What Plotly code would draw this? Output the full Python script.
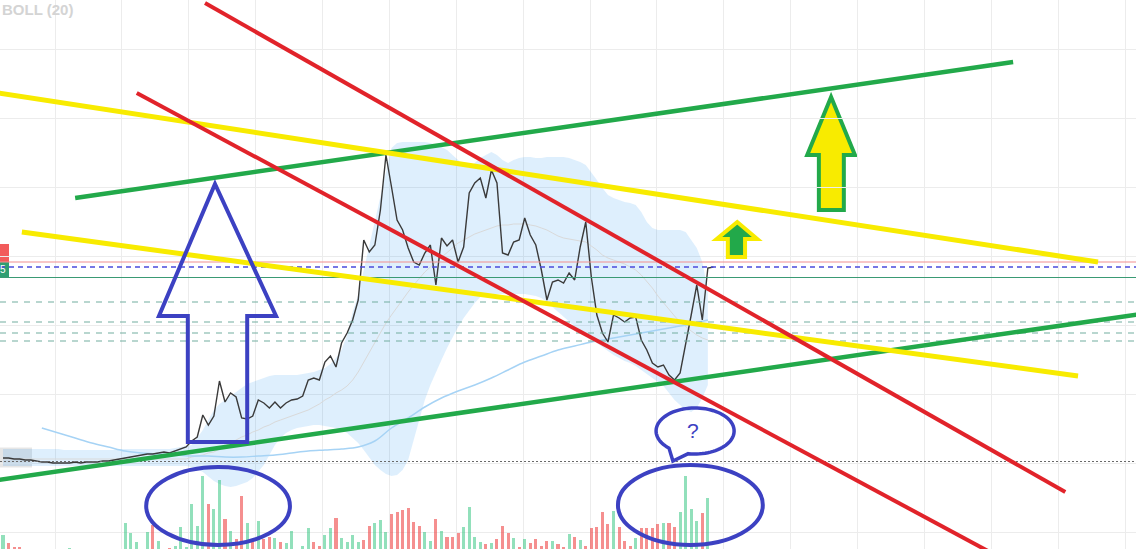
import numpy as np
import plotly.graph_objects as go

# ---------------- data (bar index, price units) ----------------
close = [91, 91, 90, 90, 89, 89, 88, 87, 87, 86, 86, 86, 86, 87, 86, 87, 87, 87, 88, 88,
         89, 90, 91, 92, 93, 94, 95, 95, 96, 97, 96, 98, 100, 102, 108, 112, 134, 124, 133, 168,
         147, 156, 152, 131, 130, 133, 149, 146, 141, 147, 141, 146, 149, 150, 153, 169, 171, 169, 187, 193,
         182, 206, 216, 229, 249, 309, 297, 304, 339, 394, 362, 329, 319, 301, 287, 284, 296, 304, 264, 311,
         303, 309, 287, 302, 356, 366, 371, 351, 379, 366, 296, 294, 307, 309, 331, 314, 304, 279, 249, 267,
         269, 266, 276, 269, 302, 327, 272, 234, 216, 207, 234, 231, 227, 231, 232, 209, 199, 186, 182, 184,
         174, 169, 176, 204, 234, 264, 229, 281, 282]

boll_upper = [100] * 11 + [99] * 10 + [100] * 10 + [
    101, 102, 103, 104, 111, 119, 129, 139, 145, 149, 153, 157, 161, 165, 167, 169, 171, 173, 174, 174,
    174, 174, 174, 175, 176, 177, 179, 181, 185, 191, 199, 214, 237, 254, 279, 304, 329, 352, 379, 401,
    406, 407, 407, 407, 407, 407, 406, 404, 402, 399, 394, 389, 384, 381, 386, 391, 394, 397, 394, 389,
    386, 389, 391, 392, 392, 391, 391, 392, 392, 392, 392, 391, 389, 387, 384, 377, 369, 361, 354, 351,
    349, 347, 346, 344, 337, 327, 321, 319, 319, 319, 319, 319, 317, 309, 301, 287, 259]

boll_lower = [83] * 34 + [
    82, 80, 77, 72, 68, 65, 63, 62, 63, 65, 67, 71, 77, 84, 94, 104, 111, 116, 119, 121,
    122, 123, 124, 124, 123, 122, 121, 119, 116, 111, 106, 99, 91, 84, 79, 75, 73, 74, 79, 89,
    109, 129, 149, 164, 177, 189, 201, 212, 222, 231, 239, 246, 252, 253, 254, 255, 255, 255, 255, 255,
    255, 254, 253, 251, 247, 242, 237, 232, 227, 222, 217, 213, 210, 206, 202, 198, 194, 191, 188, 186,
    183, 179, 175, 171, 167, 163, 156, 149, 144, 139, 137, 141, 151, 164]

boll_mid = [90] * 34 + [
    92, 93, 94, 96, 97, 100, 103, 106, 109, 112, 114, 117, 119, 122, 124, 127, 129, 131, 133, 135,
    137, 139, 142, 145, 149, 152, 156, 159, 163, 169, 177, 187, 197, 206, 216, 226, 234, 242, 249, 257,
    264, 271, 277, 282, 287, 292, 297, 302, 306, 309, 312, 315, 317, 319, 321, 323, 324, 324, 325, 325,
    325, 324, 323, 321, 319, 316, 313, 311, 310, 309, 308, 307, 303, 299, 294, 291, 289, 287, 285, 282,
    279, 274, 268, 261, 253, 246, 239, 233, 227, 222, 218, 214, 211, 209]

ma_idx = list(range(7, 128, 3))
ma_val = [121, 116, 111, 106, 102, 98, 96, 95, 94, 93, 93, 92, 92, 93, 94, 96, 98, 99, 100, 102,
          108, 121, 131, 142, 151, 158, 164, 171, 179, 187, 193, 199, 203, 207, 210, 213, 216, 219, 222, 225,
          229]

volume = [14, 6, 2, 2, 0, 0, 0, 0, 0, 0, 0, 0, 1, 0, 0, 0, 0, 0, 0, 0,
          0, 0, 26, 16, 7, 0, 17, 24, 8, 0, 1, 3, 22, 2, 45, 23, 73, 45, 40, 69,
          30, 18, 10, 53, 26, 7, 28, 10, 12, 11, 7, 6, 18, 0, 3, 21, 7, 3, 14, 21,
          31, 11, 7, 14, 7, 9, 23, 26, 29, 17, 35, 37, 39, 41, 27, 23, 17, 8, 30, 18,
          12, 12, 16, 22, 42, 12, 7, 5, 6, 10, 23, 16, 11, 2, 10, 6, 10, 3, 8, 8,
          5, 2, 15, 12, 9, 3, 21, 22, 37, 25, 38, 22, 8, 3, 11, 21, 21, 21, 25, 26,
          26, 22, 37, 73, 40, 28, 36, 51]
vol_dir = ("grrrgggggg" "gggggggggg" "gggggggrgg" "rggggggrgg" "rgrrgrgrrg"
           "rgggggrrgg" "rggggrrggg" "rrrrrrggrg" "rrrggggrgr" "rrgrgrrrrg"
           "rrgrgrrrrr" "grrrgrrrrg" "rrggggrg")

# horizontal levels (price units)
level_red = 287
level_blue = 282
level_green = 271.5
levels_teal = [247, 227, 216, 208]
level_gray = 87.5

# drawn trendlines: (x0, y0, x1, y1) in bar index / price units
red_lines = [(36.4, 546, 191.4, 57), (24.1, 456, 177.8, -3)]
yellow_lines = [(-1.0, 456.2, 197.3, 287), (3.4, 317, 193.7, 173)]
green_lines = [(13.0, 351, 182.0, 487), (-1.0, 68.9, 205.0, 235)]

blue_arrow = [(38.2, 365), (49.2, 233), (44.0, 233), (44.0, 107), (33.3, 107), (33.3, 233), (28.1, 233)]
big_arrow = [(149.2, 452), (144.9, 394), (147.0, 394), (147.0, 339), (151.5, 339), (151.5, 394), (153.5, 394)]
small_arrow = [(132.3, 327), (128.6, 310), (130.6, 310), (130.6, 292), (133.7, 292), (133.7, 310), (135.9, 310)]

ellipses = [(25.8, 4, 51.7, 82), (110.8, 4, 136.9, 84)]
bubble = dict(cx=124.7, cy=118, rx=7.03, ry=23, a0=260, a1=588, tip=(120.7, 88))

# ---------------- colours ----------------
BLUE = "#3c41c2"
RED = "#e1232a"
YEL = "#f8eb00"
GRN = "#22a94a"

idx = list(range(len(close)))
bidx = list(range(len(boll_upper)))

fig = go.Figure()
fig.add_trace(go.Scatter(x=bidx, y=boll_lower, mode="lines", line=dict(width=0, color="rgba(0,0,0,0)"),
                         hoverinfo="skip"))
fig.add_trace(go.Scatter(x=bidx, y=boll_upper, mode="lines", line=dict(width=0, color="rgba(0,0,0,0)"),
                         fill="tonexty", fillcolor="rgba(33,150,243,0.15)", hoverinfo="skip"))
fig.add_trace(go.Scatter(x=bidx, y=boll_mid, mode="lines", line=dict(width=1, color="#d9d9d9")))
fig.add_trace(go.Scatter(x=ma_idx, y=ma_val, mode="lines", line=dict(width=1.5, color="#a6d3f5", shape="spline")))
fig.add_trace(go.Scatter(x=idx, y=close, mode="lines", line=dict(width=1.4, color="#3a3a3a")))

vcols = ["rgba(38,194,120,0.5)" if c == "g" else "rgba(239,68,68,0.6)" for c in vol_dir]
vcols += ["rgba(38,194,120,0.5)"] * (len(volume) - len(vcols))
fig.add_trace(go.Bar(x=list(range(len(volume))), y=volume, marker=dict(color=vcols[:len(volume)], line=dict(width=0)),
                     width=0.55, yaxis="y2"))

shapes = []
# left price tags
shapes.append(dict(type="rect", xref="paper", yref="y", x0=0, x1=9 / 1136, y0=level_red, y1=level_red + 18,
                   fillcolor="#f25b5b", line=dict(width=0), layer="below"))
shapes.append(dict(type="rect", xref="paper", yref="y", x0=0, x1=9 / 1136, y0=level_green, y1=level_red,
                   fillcolor="#2f9e72", line=dict(width=0), layer="below"))
shapes.append(dict(type="rect", xref="paper", yref="y", x0=0, x1=32 / 1136, y0=level_gray - 6, y1=level_gray + 14,
                   fillcolor="#e6e6e6", line=dict(width=0), layer="below"))
# horizontal levels
shapes.append(dict(type="line", xref="paper", yref="y", x0=0, x1=1, y0=level_red, y1=level_red,
                   line=dict(color="#f29090", width=1.2)))
shapes.append(dict(type="line", xref="paper", yref="y", x0=0, x1=1, y0=level_blue, y1=level_blue,
                   line=dict(color="#4b4bdc", width=1.5, dash="5px,4px")))
shapes.append(dict(type="line", xref="paper", yref="y", x0=0, x1=1, y0=level_green, y1=level_green,
                   line=dict(color="#3a9a74", width=1.2)))
for lv in levels_teal:
    shapes.append(dict(type="line", xref="paper", yref="y", x0=0, x1=1, y0=lv, y1=lv,
                       line=dict(color="#72ae9f", width=1.2, dash="6px,6px")))
shapes.append(dict(type="line", xref="paper", yref="y", x0=0, x1=1, y0=level_gray, y1=level_gray,
                   line=dict(color="#6a6a6a", width=1.2, dash="2px,2px")))


def poly(pts):
    return "M " + " L ".join(f"{x},{y}" for x, y in pts) + " Z"


# big yellow arrow (below grid so grid shows through)
shapes.append(dict(type="path", xref="x", yref="y", path=poly(big_arrow), fillcolor=YEL,
                   line=dict(color=GRN, width=4), layer="below"))

for x0, y0, x1, y1 in green_lines:
    shapes.append(dict(type="line", xref="x", yref="y", x0=x0, y0=y0, x1=x1, y1=y1, line=dict(color=GRN, width=4.5)))
for x0, y0, x1, y1 in yellow_lines:
    shapes.append(dict(type="line", xref="x", yref="y", x0=x0, y0=y0, x1=x1, y1=y1, line=dict(color=YEL, width=5)))
for x0, y0, x1, y1 in red_lines:
    shapes.append(dict(type="line", xref="x", yref="y", x0=x0, y0=y0, x1=x1, y1=y1, line=dict(color=RED, width=4)))

shapes.append(dict(type="path", xref="x", yref="y", path=poly(small_arrow), fillcolor=GRN,
                   line=dict(color=YEL, width=4)))
shapes.append(dict(type="path", xref="x", yref="y", path=poly(blue_arrow), fillcolor="rgba(0,0,0,0)",
                   line=dict(color=BLUE, width=4)))
for x0, y0, x1, y1 in ellipses:
    shapes.append(dict(type="circle", xref="x", yref="y", x0=x0, y0=y0, x1=x1, y1=y1, line=dict(color=BLUE, width=4)))

# speech bubble
t = np.radians(np.linspace(bubble["a0"], bubble["a1"], 80))
bx = bubble["cx"] + bubble["rx"] * np.cos(t)
by = bubble["cy"] + bubble["ry"] * np.sin(t)
bpts = list(zip(bx.round(3), by.round(3))) + [bubble["tip"]]
shapes.append(dict(type="path", xref="x", yref="y", path=poly(bpts), fillcolor="rgba(255,255,255,0)",
                   line=dict(color=BLUE, width=3.5)))

annotations = [
    dict(text="<b>BOLL (20)</b>", xref="paper", yref="paper", x=0, y=1 - 10 / 549, xanchor="left",
         yanchor="middle", showarrow=False, font=dict(family="Liberation Sans", size=15, color="#d4d4d4")),
    dict(text="?", xref="x", yref="y", x=124.3, y=119, showarrow=False,
         font=dict(family="Liberation Sans", size=21, color=BLUE)),
    dict(text="5", xref="paper", yref="y", x=-2 / 1136, y=level_green + 8, xanchor="left", showarrow=False,
         font=dict(family="Liberation Sans", size=10, color="white")),
]

fig.update_layout(
    width=1136, height=549, margin=dict(l=0, r=0, t=0, b=0),
    paper_bgcolor="white", plot_bgcolor="white", showlegend=False,
    xaxis=dict(range=[-0.54, 204.14], showgrid=True, gridcolor="#ececec", gridwidth=1, tickmode="linear",
               tick0=9.37, dtick=12.05, showticklabels=False, zeroline=False, showline=False, ticks=""),
    yaxis=dict(range=[0, 549], showgrid=True, gridcolor="#ececec", gridwidth=1, tickmode="linear",
               tick0=17, dtick=68.9, showticklabels=False, zeroline=False, showline=False, ticks=""),
    yaxis2=dict(range=[0, 549], overlaying="y", visible=False, showgrid=False),
    shapes=shapes, annotations=annotations, bargap=0,
)

fig.write_html("out.html")
